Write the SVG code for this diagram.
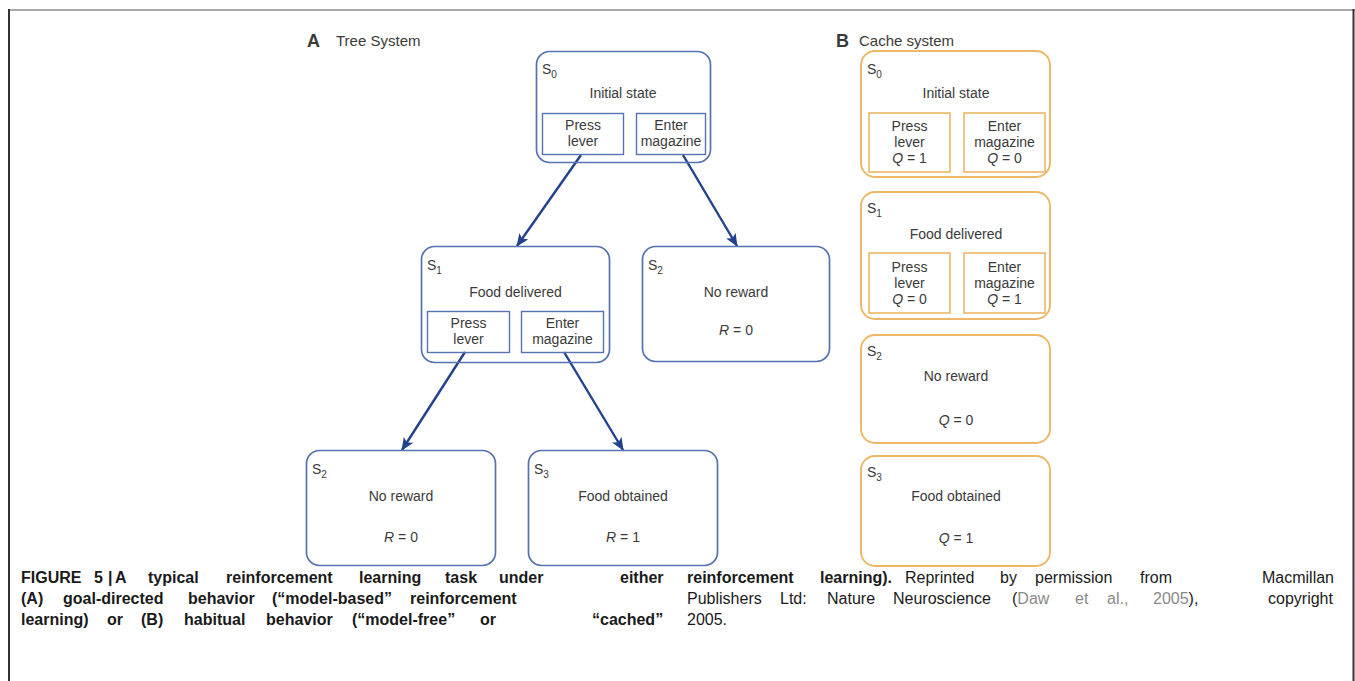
<svg xmlns="http://www.w3.org/2000/svg" width="1355" height="681" viewBox="0 0 1355 681">
<defs>
<style>
.t{font-family:"Liberation Sans",Arial,sans-serif;fill:#3a3a3a;}
.lbl{font-size:14px;text-anchor:middle;}
.s{font-size:14px;}
.sub{font-size:10px;}
.bx{fill:none;stroke:#5673b0;stroke-width:1.7;}
.ib{fill:none;stroke:#5673b0;stroke-width:1.4;}
.ob{fill:none;stroke:#ecb766;stroke-width:1.9;}
.oib{fill:none;stroke:#ecb766;stroke-width:1.6;}
.arr{stroke:#22418f;stroke-width:2.4;fill:none;marker-end:url(#ah);}
.cap{font-family:"Liberation Sans",Arial,sans-serif;font-size:16px;fill:#1a1a1a;}
.b{font-weight:bold;}
.lnk{fill:#8a8a8a;}
</style>
<marker id="ah" viewBox="0 0 13 11" refX="12" refY="5.5" markerWidth="13" markerHeight="11" markerUnits="userSpaceOnUse" orient="auto">
<path d="M0,0 L13,5.5 L0,11 L3,5.5 Z" fill="#22418f"/>
</marker>
</defs>
<rect width="1355" height="681" fill="#ffffff"/>
<g id="frame">
<line x1="8" y1="10" x2="1355" y2="10" stroke="#8c8c8c" stroke-width="1.6"/>
<line x1="9" y1="9" x2="9" y2="681" stroke="#333" stroke-width="2"/>
<line x1="1353.5" y1="9" x2="1353.5" y2="681" stroke="#333" stroke-width="2"/>
</g>
<g id="titleA">
<text class="t" x="307" y="47" font-size="18" font-weight="bold" fill="#111">A</text>
<text class="t" x="336" y="46" font-size="15">Tree System</text>
</g>
<g id="titleB">
<text class="t" x="836" y="47" font-size="18" font-weight="bold" fill="#111">B</text>
<text class="t" x="859" y="46" font-size="15">Cache system</text>
</g>
<g id="connectors">
<line class="arr" x1="581" y1="155" x2="517" y2="246"/>
<line class="arr" x1="683" y1="155" x2="737" y2="246"/>
<line class="arr" x1="465" y1="352" x2="402" y2="450"/>
<line class="arr" x1="564" y1="352" x2="623" y2="450"/>
</g>
<g id="tree-s0">
<rect class="bx" x="536.5" y="51.5" width="174" height="111" rx="13"/>
<text class="t s" x="542" y="74">S<tspan class="sub" dy="4">0</tspan></text>
<text class="t lbl" x="623" y="98">Initial state</text>
<rect class="ib" x="542.5" y="113.5" width="81" height="41"/>
<text class="t lbl" x="583" y="130">Press</text>
<text class="t lbl" x="583" y="146">lever</text>
<rect class="ib" x="636.5" y="113.5" width="69" height="41"/>
<text class="t lbl" x="671" y="130">Enter</text>
<text class="t lbl" x="671" y="146">magazine</text>
</g>
<g id="tree-s1">
<rect class="bx" x="421.5" y="246.5" width="188" height="116" rx="13"/>
<text class="t s" x="427" y="270">S<tspan class="sub" dy="4">1</tspan></text>
<text class="t lbl" x="515.5" y="297">Food delivered</text>
<rect class="ib" x="427.5" y="311.5" width="82" height="41"/>
<text class="t lbl" x="468.5" y="328">Press</text>
<text class="t lbl" x="468.5" y="344">lever</text>
<rect class="ib" x="521.5" y="311.5" width="82" height="41"/>
<text class="t lbl" x="562.5" y="328">Enter</text>
<text class="t lbl" x="562.5" y="344">magazine</text>
</g>
<g id="tree-s2a">
<rect class="bx" x="642.5" y="246.5" width="187" height="115" rx="13"/>
<text class="t s" x="648" y="270">S<tspan class="sub" dy="4">2</tspan></text>
<text class="t lbl" x="736" y="297">No reward</text>
<text class="t lbl" x="736" y="335"><tspan font-style="italic">R</tspan> = 0</text>
</g>
<g id="tree-s2b">
<rect class="bx" x="306.5" y="450.5" width="189" height="115" rx="13"/>
<text class="t s" x="312" y="474">S<tspan class="sub" dy="4">2</tspan></text>
<text class="t lbl" x="401" y="501">No reward</text>
<text class="t lbl" x="401" y="542"><tspan font-style="italic">R</tspan> = 0</text>
</g>
<g id="tree-s3">
<rect class="bx" x="528.5" y="450.5" width="189" height="115" rx="13"/>
<text class="t s" x="534" y="474">S<tspan class="sub" dy="4">3</tspan></text>
<text class="t lbl" x="623" y="501">Food obtained</text>
<text class="t lbl" x="623" y="542"><tspan font-style="italic">R</tspan> = 1</text>
</g>
<g id="cache-s0">
<rect class="ob" x="861" y="51" width="189" height="126" rx="14"/>
<text class="t s" x="867" y="74">S<tspan class="sub" dy="4">0</tspan></text>
<text class="t lbl" x="956" y="98">Initial state</text>
<rect class="oib" x="869" y="113" width="81" height="59"/>
<text class="t lbl" x="909.5" y="131">Press</text>
<text class="t lbl" x="909.5" y="147">lever</text>
<text class="t lbl" x="909.5" y="163"><tspan font-style="italic">Q</tspan> = 1</text>
<rect class="oib" x="964" y="113" width="81" height="59"/>
<text class="t lbl" x="1004.5" y="131">Enter</text>
<text class="t lbl" x="1004.5" y="147">magazine</text>
<text class="t lbl" x="1004.5" y="163"><tspan font-style="italic">Q</tspan> = 0</text>
</g>
<g id="cache-s1">
<rect class="ob" x="861" y="192" width="189" height="127" rx="14"/>
<text class="t s" x="867" y="213">S<tspan class="sub" dy="4">1</tspan></text>
<text class="t lbl" x="956" y="239">Food delivered</text>
<rect class="oib" x="869" y="253" width="81" height="60"/>
<text class="t lbl" x="909.5" y="272">Press</text>
<text class="t lbl" x="909.5" y="288">lever</text>
<text class="t lbl" x="909.5" y="304"><tspan font-style="italic">Q</tspan> = 0</text>
<rect class="oib" x="964" y="253" width="81" height="60"/>
<text class="t lbl" x="1004.5" y="272">Enter</text>
<text class="t lbl" x="1004.5" y="288">magazine</text>
<text class="t lbl" x="1004.5" y="304"><tspan font-style="italic">Q</tspan> = 1</text>
</g>
<g id="cache-s2">
<rect class="ob" x="861" y="335" width="189" height="108" rx="14"/>
<text class="t s" x="867" y="356">S<tspan class="sub" dy="4">2</tspan></text>
<text class="t lbl" x="956" y="381">No reward</text>
<text class="t lbl" x="956" y="425"><tspan font-style="italic">Q</tspan> = 0</text>
</g>
<g id="cache-s3">
<rect class="ob" x="861" y="456" width="189" height="110" rx="14"/>
<text class="t s" x="867" y="477">S<tspan class="sub" dy="4">3</tspan></text>
<text class="t lbl" x="956" y="501">Food obtained</text>
<text class="t lbl" x="956" y="543"><tspan font-style="italic">Q</tspan> = 1</text>
</g>
<g id="caption">
<text class="cap b" y="583"><tspan x="21">FIGURE</tspan><tspan x="94">5</tspan><tspan x="108">|</tspan><tspan x="115">A</tspan><tspan x="148">typical</tspan><tspan x="226">reinforcement</tspan><tspan x="359">learning</tspan><tspan x="445">task</tspan><tspan x="499">under</tspan><tspan x="620">either</tspan></text>
<text class="cap b" y="604"><tspan x="21">(A)</tspan><tspan x="63">goal-directed</tspan><tspan x="188">behavior</tspan><tspan x="272">(“model-based”</tspan><tspan x="410">reinforcement</tspan></text>
<text class="cap b" y="625"><tspan x="21">learning)</tspan><tspan x="107">or</tspan><tspan x="141">(B)</tspan><tspan x="184">habitual</tspan><tspan x="266">behavior</tspan><tspan x="352">(“model-free”</tspan><tspan x="480">or</tspan><tspan x="592">“cached”</tspan></text>
<text class="cap" y="583"><tspan class="b" x="687">reinforcement</tspan><tspan class="b" x="820">learning).</tspan><tspan x="905">Reprinted</tspan><tspan x="1000">by</tspan><tspan x="1035">permission</tspan><tspan x="1140">from</tspan><tspan x="1262">Macmillan</tspan></text>
<text class="cap" y="604"><tspan x="687">Publishers</tspan><tspan x="780">Ltd:</tspan><tspan x="827">Nature</tspan><tspan x="893">Neuroscience</tspan><tspan x="1012">(</tspan><tspan class="lnk">Daw</tspan><tspan class="lnk" x="1075">et</tspan><tspan class="lnk" x="1107">al.,</tspan><tspan class="lnk" x="1153">2005</tspan><tspan>),</tspan><tspan x="1268">copyright</tspan></text>
<text class="cap" y="625"><tspan x="687">2005.</tspan></text>
</g>
</svg>
